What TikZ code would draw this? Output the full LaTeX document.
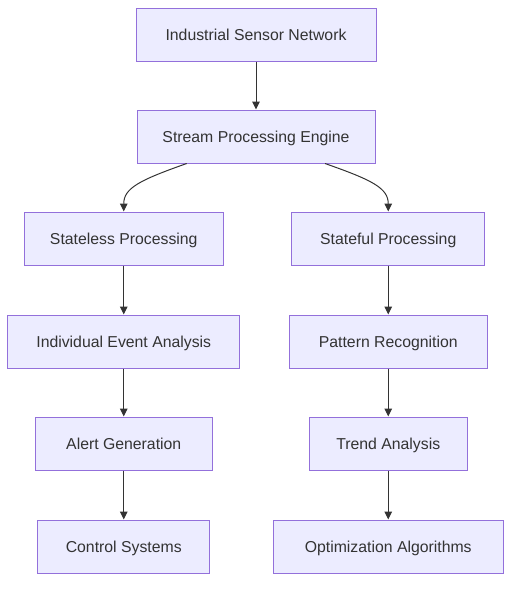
\documentclass[tikz,border=0pt]{standalone}
\usepackage{fontspec}
\setmainfont{Liberation Sans}
\usetikzlibrary{arrows.meta}
\definecolor{boxfill}{HTML}{ECECFF}
\definecolor{boxline}{HTML}{9370DB}
\definecolor{txt}{HTML}{333333}
\begin{document}
\begin{tikzpicture}[x=1pt,y=-1pt,
  box/.style={draw=boxline,fill=boxfill,line width=1pt,inner sep=0pt,minimum height=53pt,text height=11.5pt,text depth=0pt,text=txt,font=\fontsize{15.8}{18}\selectfont},
  arr/.style={draw=txt,line width=1pt,-{Triangle[length=8pt,width=7.5pt]}}]
\useasboundingbox (0,0) rectangle (519,590);
\node[box,minimum width=240pt] (a) at (256,34.5) {Industrial Sensor Network};
\node[box,minimum width=238pt] (b) at (256,136.5) {Stream Processing Engine};
\node[box,minimum width=199pt] (c) at (123.75,238.5) {Stateless Processing};
\node[box,minimum width=193pt] (d) at (388.25,238.5) {Stateful Processing};
\node[box,minimum width=232pt] (e) at (123.75,341.5) {Individual Event Analysis};
\node[box,minimum width=198pt] (f) at (388.25,341.5) {Pattern Recognition};
\node[box,minimum width=177pt] (g) at (123.75,443.5) {Alert Generation};
\node[box,minimum width=158pt] (h) at (388.25,443.5) {Trend Analysis};
\node[box,minimum width=172pt] (i) at (123.75,546.5) {Control Systems};
\node[box,minimum width=230pt] (j) at (388.25,546.5) {Optimization Algorithms};
\draw[arr] (a) -- (b);
\coordinate (bl) at ([xshift=-69.3pt]b.south);
\coordinate (br) at ([xshift=69pt]b.south);
\draw[arr] (bl) .. controls (140,180) and (123.75,188) .. (c.north);
\draw[arr] (br) .. controls (372,180) and (388.25,188) .. (d.north);
\draw[arr] (c) -- (e);
\draw[arr] (e) -- (g);
\draw[arr] (g) -- (i);
\draw[arr] (d) -- (f);
\draw[arr] (f) -- (h);
\draw[arr] (h) -- (j);
\end{tikzpicture}
\end{document}
